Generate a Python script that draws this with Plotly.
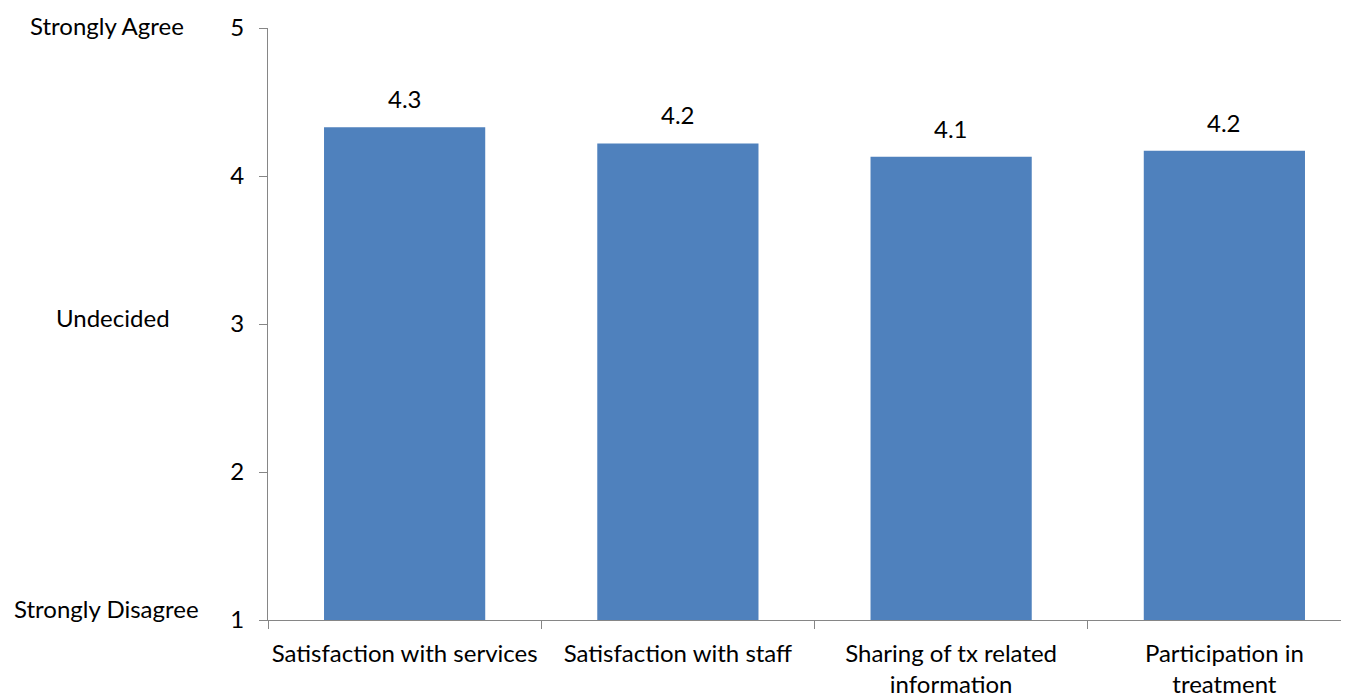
import plotly.graph_objects as go

categories = ["Satisfaction with services", "Satisfaction with staff",
              "Sharing of tx related<br>information", "Participation in<br>treatment"]
values = [4.33, 4.22, 4.13, 4.17]
value_labels = ["4.3", "4.2", "4.1", "4.2"]
y_ticks = [1, 2, 3, 4, 5]
scale_labels = ["Strongly Agree", "Undecided", "Strongly Disagree"]
scale_values = [5, 3, 1]

FONT = "Lato"
FS = 24
AX = "#868686"
OFF = 8  # page body margin
W, H = 1349, 696
L, T, B = 268 - OFF, 28 - OFF, 696 - (620 - OFF)
PW = W - L

fig = go.Figure()
fig.add_trace(go.Bar(
    x=categories, y=values, width=0.59,
    marker=dict(color="#4F81BD", line=dict(width=0)),
    hoverinfo="skip",
))

for c, v, t in zip(categories, values, value_labels):
    fig.add_annotation(x=c, y=v, text=t, showarrow=False, xref="x", yref="y",
                       yanchor="bottom", yshift=12,
                       font=dict(family=FONT, size=FS, color="black"))

label_px = [107, 113, 107]
label_shift = [3, 7, 12]
for t, v, px, s in zip(scale_labels, scale_values, label_px, label_shift):
    fig.add_annotation(x=(px - OFF - L) / PW, y=v, xref="paper", yref="y", text=t,
                       showarrow=False, xanchor="center", yanchor="middle",
                       yshift=s, font=dict(family=FONT, size=FS, color="black"))

fig.update_layout(
    width=W, height=H,
    margin=dict(l=L, r=0, t=T, b=B, pad=0),
    plot_bgcolor="white", paper_bgcolor="white",
    showlegend=False,
    font=dict(family=FONT, size=FS, color="black"),
)
fig.update_xaxes(
    type="category", range=[-0.5, 3.5 - 4 / 273], tickangle=0, automargin=False,
    showline=True, linecolor=AX, linewidth=1.3,
    ticks="outside", tickson="boundaries", ticklen=8, tickcolor=AX, tickwidth=1.3,
    ticklabelstandoff=12,
    showgrid=False, tickfont=dict(family=FONT, size=FS, color="black"),
)
fig.update_yaxes(
    range=[1, 5], tickvals=y_ticks, showline=True, linecolor=AX, linewidth=1.3,
    ticks="outside", ticklen=8, tickcolor=AX, tickwidth=1.3, automargin=False,
    ticklabelstandoff=10,
    showgrid=False, zeroline=False, tickfont=dict(family=FONT, size=FS, color="black"),
)

fig.write_html("out.html")
